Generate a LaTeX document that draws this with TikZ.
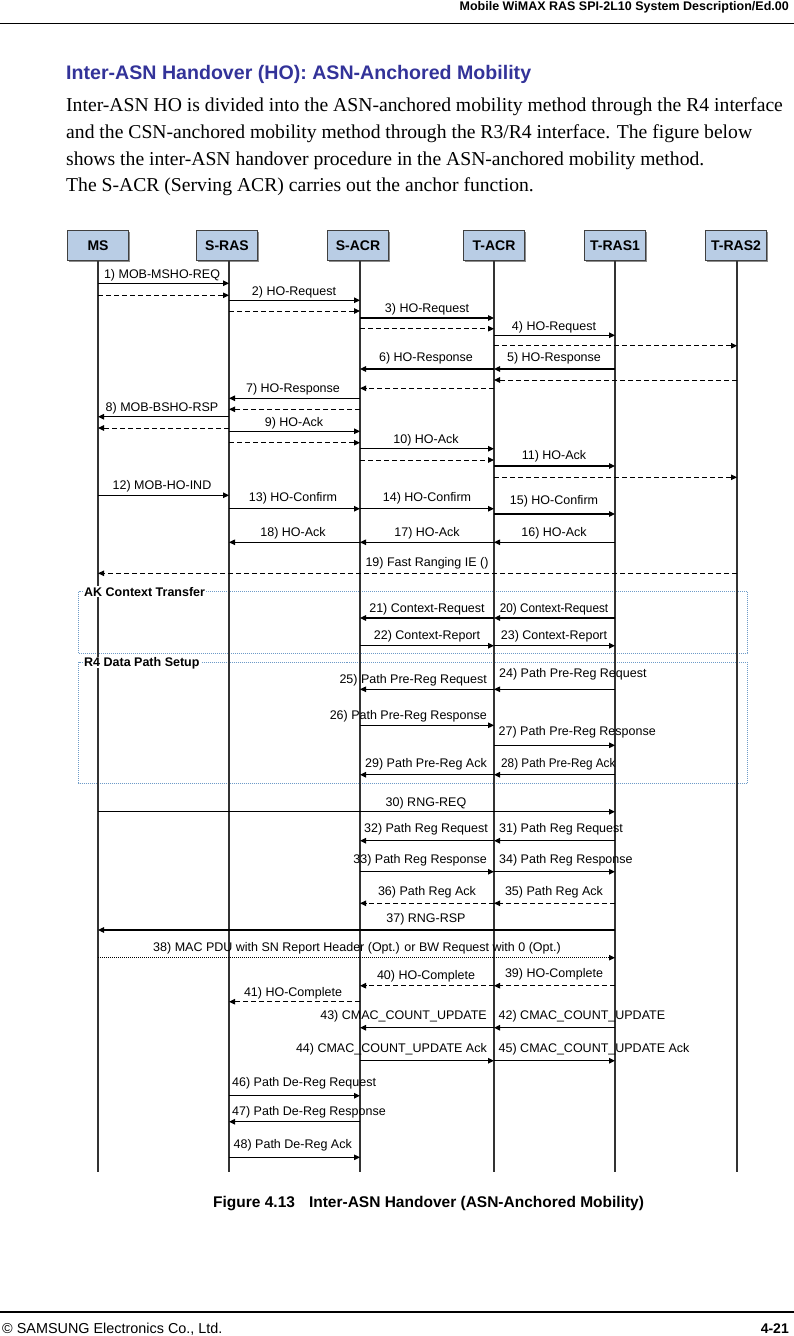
\documentclass[tikz,border=0pt]{standalone}
\usepackage{fontspec}
\setmainfont{Liberation Serif}
\newfontfamily\arialf{Liberation Sans}
\newfontfamily\lblf{Liberation Sans}
\usetikzlibrary{arrows.meta,shadows}
\definecolor{titleblue}{RGB}{51,51,153}
\definecolor{boxfill}{RGB}{185,205,229}
\definecolor{grpline}{RGB}{110,155,200}
\begin{document}
\begin{tikzpicture}[x=1pt,y=-1pt,
  actor/.style={draw=black!75, line width=0.8pt, fill=boxfill, minimum width=61pt, minimum height=30pt, inner sep=0pt,
    font=\arialf\bfseries\fontsize{14}{16}\selectfont,
    drop shadow={shadow xshift=1.2pt, shadow yshift=-1.2pt, fill=black!45, opacity=1}},
  life/.style={line width=2pt, draw=black!80},
  msg/.style={line width=1.2pt, -{Triangle[length=6pt,width=5.5pt]}},
  dmsg/.style={msg, line width=1pt, dash pattern=on 5pt off 3pt},
  omsg/.style={line width=0.8pt, dash pattern=on 1pt off 1pt, -{Triangle[length=6pt,width=5.5pt]}},
  lbl/.style={inner sep=0pt, text height=9pt, text depth=0pt, font=\lblf\fontsize{12.5}{14}\selectfont},
  nlbl/.style={lbl, xscale=0.94},
  grp/.style={draw=grpline, line width=0.8pt, dash pattern=on 1pt off 1pt},
  grplbl/.style={anchor=west, fill=white, inner sep=1pt, text height=9pt, text depth=0pt, font=\arialf\bfseries\fontsize{12.5}{14}\selectfont},
  body/.style={anchor=base west, inner sep=0pt, font=\fontsize{19.65}{26.7}\selectfont},
]
\useasboundingbox (0,0) rectangle (794,1336);

% header
\node[anchor=base east, inner sep=0pt, font=\arialf\bfseries\fontsize{12.5}{14}\selectfont] (hdr) at (789,10) {Mobile WiMAX RAS SPI-2L10 System Description/Ed.00};
\draw[line width=1.5pt] (0,23.3) -- (794,23.3);

% title and body
\node[anchor=base west, inner sep=0pt, text=titleblue, font=\arialf\bfseries\fontsize{19.6}{22}\selectfont] (title) at (66,79.3) {Inter-ASN Handover (HO): ASN-Anchored Mobility};
\node[body] (b1) at (66,111.7) {Inter-ASN HO is divided into the ASN-anchored mobility method through the R4 interface};
\node[body] (b2) at (66,138.3) {and the CSN-anchored mobility method through the R3/R4 interface. The figure below};
\node[body] (b3) at (66,165) {shows the inter-ASN handover procedure in the ASN-anchored mobility method.};
\node[body] (b4) at (66,191.7) {The S-ACR (Serving ACR) carries out the anchor function.};

% group boxes
\draw[grp] (78.5,591.7) rectangle (747,653.3);
\draw[grp] (78.5,662.3) rectangle (747,783.3);

% actors
\node[actor] (ms) at (98,245.7) {MS};
\node[actor] (sras) at (227,245.7) {S-RAS};
\node[actor] (sacr) at (358,245.7) {S-ACR};
\node[actor] (tacr) at (494,245.7) {T-ACR};
\node[actor] (tras1) at (615,245.7) {T-RAS1};
\node[actor] (tras2) at (736,245.7) {T-RAS2};

\coordinate (msE) at (98,1172);
\coordinate (srasE) at (229,1172);
\coordinate (sacrE) at (360,1172);
\coordinate (tacrE) at (494,1172);
\coordinate (tras1E) at (615,1172);
\coordinate (tras2E) at (737,1172);
\coordinate (msT) at (98,261);
\coordinate (srasT) at (229,261);
\coordinate (sacrT) at (360,261);
\coordinate (tacrT) at (494,261);
\coordinate (tras1T) at (615,261);
\coordinate (tras2T) at (737,261);
\draw[life] (msT) -- (msE);
\draw[life] (srasT) -- (srasE);
\draw[life] (sacrT) -- (sacrE);
\draw[life] (tacrT) -- (tacrE);
\draw[life] (tras1T) -- (tras1E);
\draw[life] (tras2T) -- (tras2E);

\node[grplbl] (gak) at (83,591.7) {AK Context Transfer};
\node[grplbl] (gr4) at (83,662.3) {R4 Data Path Setup};

% messages
\draw[msg] (msE |- 0,283.3) -- (srasE |- 0,283.3);
\node[lbl] (l1) at (162,274) {1) MOB-MSHO-REQ};
\draw[dmsg] (msE |- 0,295.3) -- (srasE |- 0,295.3);
\draw[msg] (srasE |- 0,300.3) -- (sacrE |- 0,300.3);
\node[lbl] (l2) at (294,291) {2) HO-Request};
\draw[dmsg] (srasE |- 0,311) -- (sacrE |- 0,311);
\draw[msg] (sacrE |- 0,318) -- (tacrE |- 0,318);
\node[lbl] (l3) at (427,308) {3) HO-Request};
\draw[dmsg] (sacrE |- 0,328.7) -- (tacrE |- 0,328.7);
\draw[msg] (tacrE |- 0,335.3) -- (tras1E |- 0,335.3);
\node[lbl] (l4) at (554,326) {4) HO-Request};
\draw[dmsg] (tacrE |- 0,345.7) -- (tras2E |- 0,345.7);

\draw[msg] (tras1E |- 0,369) -- (tacrE |- 0,369);
\node[lbl] (l5) at (554,357) {5) HO-Response};
\draw[msg] (tacrE |- 0,369) -- (sacrE |- 0,369);
\node[lbl] (l6) at (426,357) {6) HO-Response};
\draw[dmsg] (tras2E |- 0,380) -- (tacrE |- 0,380);
\draw[dmsg] (tacrE |- 0,388.3) -- (sacrE |- 0,388.3);
\draw[msg] (sacrE |- 0,398.3) -- (srasE |- 0,398.3);
\node[lbl] (l7) at (293,387.7) {7) HO-Response};
\draw[dmsg] (sacrE |- 0,409.3) -- (srasE |- 0,409.3);
\draw[msg] (srasE |- 0,416.7) -- (msE |- 0,416.7);
\node[lbl] (l8) at (162,407) {8) MOB-BSHO-RSP};
\draw[dmsg] (srasE |- 0,428) -- (msE |- 0,428);
\draw[msg] (srasE |- 0,431.3) -- (sacrE |- 0,431.3);
\node[lbl] (l9) at (294,421.7) {9) HO-Ack};
\draw[dmsg] (srasE |- 0,442.7) -- (sacrE |- 0,442.7);
\draw[msg] (sacrE |- 0,448.7) -- (tacrE |- 0,448.7);
\node[lbl] (l10) at (426,439.3) {10) HO-Ack};
\draw[dmsg] (sacrE |- 0,460) -- (tacrE |- 0,460);
\draw[msg] (tacrE |- 0,466) -- (tras1E |- 0,466);
\node[lbl] (l11) at (554,455) {11) HO-Ack};
\draw[dmsg] (tacrE |- 0,477.3) -- (tras2E |- 0,477.3);

\draw[msg] (msE |- 0,495.3) -- (srasE |- 0,495.3);
\node[lbl] (l12) at (162,485) {12) MOB-HO-IND};
\draw[msg] (srasE |- 0,508.7) -- (sacrE |- 0,508.7);
\node[lbl] (l13) at (293,497.3) {13) HO-Confirm};
\draw[msg] (sacrE |- 0,508.7) -- (tacrE |- 0,508.7);
\node[lbl] (l14) at (427,497.3) {14) HO-Confirm};
\draw[msg] (tacrE |- 0,514) -- (tras1E |- 0,514);
\node[lbl] (l15) at (554,499.7) {15) HO-Confirm};
\draw[msg] (tras1E |- 0,542.3) -- (tacrE |- 0,542.3);
\node[lbl] (l16) at (554,531.7) {16) HO-Ack};
\draw[msg] (tacrE |- 0,542.3) -- (sacrE |- 0,542.3);
\node[lbl] (l17) at (427,531.7) {17) HO-Ack};
\draw[msg] (sacrE |- 0,542.3) -- (srasE |- 0,542.3);
\node[lbl] (l18) at (293,531.7) {18) HO-Ack};
\draw[dmsg] (tras2E |- 0,573.3) -- (msE |- 0,573.3);
\node[lbl] (l19) at (427,561.7) {19) Fast Ranging IE ()};

\draw[msg] (tras1E |- 0,618) -- (tacrE |- 0,618);
\node[nlbl] (l20) at (554,607.7) {20) Context-Request};
\draw[msg] (tacrE |- 0,618) -- (sacrE |- 0,618);
\node[lbl] (l21) at (427,607.7) {21) Context-Request};
\draw[msg] (sacrE |- 0,645.7) -- (tacrE |- 0,645.7);
\node[lbl] (l22) at (427,635) {22) Context-Report};
\draw[msg] (tacrE |- 0,645.7) -- (tras1E |- 0,645.7);
\node[lbl] (l23) at (554,635) {23) Context-Report};

\draw[msg] (tras1E |- 0,689.3) -- (tacrE |- 0,689.3);
\node[lbl, anchor=west] (l24) at (499,673) {24) Path Pre-Reg Request};
\draw[msg] (tacrE |- 0,689.3) -- (sacrE |- 0,689.3);
\node[lbl, anchor=east] (l25) at (487,679) {25) Path Pre-Reg Request};
\draw[msg] (sacrE |- 0,725.3) -- (tacrE |- 0,725.3);
\node[lbl, anchor=east] (l26) at (487,715) {26) Path Pre-Reg Response};
\draw[msg] (tacrE |- 0,745.3) -- (tras1E |- 0,745.3);
\node[lbl, anchor=west] (l27) at (498.5,730.7) {27) Path Pre-Reg Response};
\draw[msg] (tras1E |- 0,774.7) -- (tacrE |- 0,774.7);
\node[nlbl, anchor=west] (l28) at (501,763.3) {28) Path Pre-Reg Ack};
\draw[msg] (tacrE |- 0,774.7) -- (sacrE |- 0,774.7);
\node[lbl, anchor=east] (l29) at (487,763.3) {29) Path Pre-Reg Ack};

\draw[msg] (msE |- 0,811.7) -- (tras1E |- 0,811.7);
\node[lbl] (l30) at (426,801.7) {30) RNG-REQ};
\draw[msg] (tras1E |- 0,840.7) -- (tacrE |- 0,840.7);
\node[lbl, anchor=west] (l31) at (499,828) {31) Path Reg Request};
\draw[msg] (tacrE |- 0,840.7) -- (sacrE |- 0,840.7);
\node[lbl, anchor=east] (l32) at (488,828) {32) Path Reg Request};
\draw[msg] (sacrE |- 0,871.7) -- (tacrE |- 0,871.7);
\node[lbl, anchor=east] (l33) at (487,859) {33) Path Reg Response};
\draw[msg] (tacrE |- 0,871.7) -- (tras1E |- 0,871.7);
\node[lbl, anchor=west] (l34) at (499,859) {34) Path Reg Response};
\draw[dmsg] (tras1E |- 0,903.3) -- (tacrE |- 0,903.3);
\node[lbl] (l35) at (554,891) {35) Path Reg Ack};
\draw[dmsg] (tacrE |- 0,903.3) -- (sacrE |- 0,903.3);
\node[lbl] (l36) at (427,891) {36) Path Reg Ack};
\draw[msg] (tras1E |- 0,930) -- (msE |- 0,930);
\node[lbl] (l37) at (426,917.7) {37) RNG-RSP};
\draw[omsg] (msE |- 0,957.7) -- (tras1E |- 0,957.7);
\node[lbl] (l38) at (357,947.3) {38) MAC PDU with SN Report Header (Opt.) or BW Request with 0 (Opt.)};
\draw[dmsg] (tras1E |- 0,985.7) -- (tacrE |- 0,985.7);
\node[lbl] (l39) at (554,972.7) {39) HO-Complete};
\draw[dmsg] (tacrE |- 0,985.7) -- (sacrE |- 0,985.7);
\node[lbl] (l40) at (426,975) {40) HO-Complete};
\draw[dmsg] (sacrE |- 0,1001.7) -- (srasE |- 0,1001.7);
\node[lbl] (l41) at (293,992) {41) HO-Complete};

\draw[msg] (tras1E |- 0,1027.7) -- (tacrE |- 0,1027.7);
\node[lbl, anchor=west] (l42) at (498.5,1015) {42) CMAC\_COUNT\_UPDATE};
\draw[msg] (tacrE |- 0,1027.7) -- (sacrE |- 0,1027.7);
\node[lbl, anchor=east] (l43) at (487,1015) {43) CMAC\_COUNT\_UPDATE};
\draw[msg] (sacrE |- 0,1060.7) -- (tacrE |- 0,1060.7);
\node[lbl, anchor=east] (l44) at (487,1048.3) {44) CMAC\_COUNT\_UPDATE Ack};
\draw[msg] (tacrE |- 0,1060.7) -- (tras1E |- 0,1060.7);
\node[lbl, anchor=west] (l45) at (498.5,1048.3) {45) CMAC\_COUNT\_UPDATE Ack};
\draw[msg] (srasE |- 0,1095.7) -- (sacrE |- 0,1095.7);
\node[lbl, anchor=west] (l46) at (232,1081.7) {46) Path De-Reg Request};
\draw[msg] (sacrE |- 0,1121.7) -- (srasE |- 0,1121.7);
\node[lbl, anchor=west] (l47) at (232,1111) {47) Path De-Reg Response};
\draw[msg] (srasE |- 0,1157.3) -- (sacrE |- 0,1157.3);
\node[lbl, anchor=west] (l48) at (233.5,1144) {48) Path De-Reg Ack};

% caption
\node[anchor=base west, inner sep=0pt, font=\arialf\bfseries\fontsize{15.5}{18}\selectfont] (cap) at (213,1207.3) {Figure 4.13\hspace{14pt}Inter-ASN Handover (ASN-Anchored Mobility)};

% footer
\draw[line width=2pt] (0,1311.7) -- (794,1311.7);
\node[anchor=base west, inner sep=0pt, font=\arialf\fontsize{14.4}{17}\selectfont] (foot) at (2,1333) {© SAMSUNG Electronics Co., Ltd.};
\node[anchor=base east, inner sep=0pt, font=\arialf\bfseries\fontsize{14}{17}\selectfont] (pg) at (789,1333) {4-21};
\end{tikzpicture}
\end{document}
